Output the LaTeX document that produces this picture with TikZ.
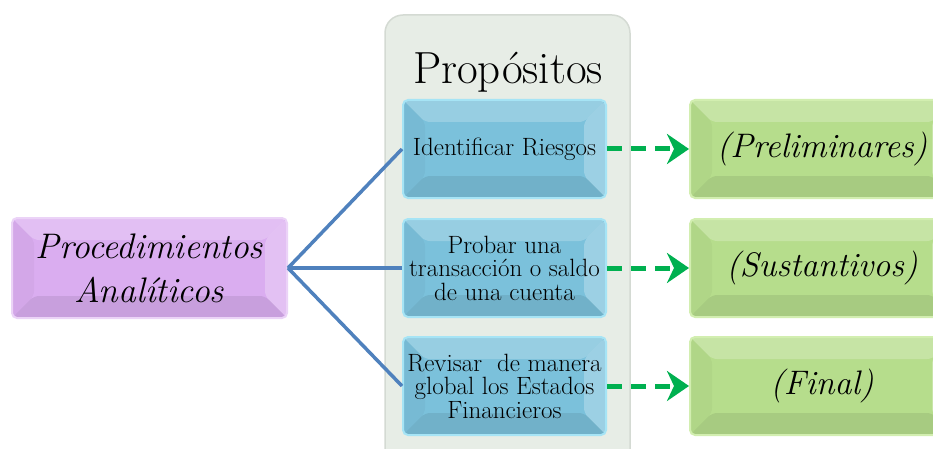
\documentclass[tikz,border=0pt]{standalone}
\usepackage{fontspec}
\usetikzlibrary{arrows.meta,calc}
\definecolor{purp}{HTML}{DAADF0}
\definecolor{purpglow}{HTML}{EBD3F7}
\definecolor{bluef}{HTML}{7BC1DB}
\definecolor{blueglow}{HTML}{A6E4F5}
\definecolor{greenf}{HTML}{B6DD8C}
\definecolor{greenglow}{HTML}{D2EEB0}
\definecolor{panel}{HTML}{E7EDE6}
\definecolor{panelline}{HTML}{D4DAD3}
\definecolor{connblue}{HTML}{4F81BD}
\definecolor{arrgreen}{HTML}{00B050}
\newcommand{\bw}{22pt}
\tikzset{
  bevel/.style={path picture={
    \path (path picture bounding box.north west) coordinate (pNW)
          (path picture bounding box.south east) coordinate (pSE);
    \fill[white,opacity=.22] (pNW) -- (pNW -| pSE) -- ($(pNW -| pSE)+(-\bw,-\bw)$) -- ($(pNW)+(\bw,-\bw)$) -- cycle;
    \fill[white,opacity=.25] (pNW -| pSE) -- (pSE) -- ($(pSE)+(-\bw,\bw)$) -- ($(pNW -| pSE)+(-\bw,-\bw)$) -- cycle;
    \fill[black,opacity=.08] (pSE) -- (pSE -| pNW) -- ($(pSE -| pNW)+(\bw,\bw)$) -- ($(pSE)+(-\bw,\bw)$) -- cycle;
    \fill[black,opacity=.03] (pNW) -- ($(pNW)+(\bw,-\bw)$) -- ($(pSE -| pNW)+(\bw,\bw)$) -- (pSE -| pNW) -- cycle;
  }},
  pbox/.style={bevel, rounded corners=5pt, fill=purp, draw=purpglow, line width=2pt,
    minimum width=275pt, minimum height=100pt, align=center, inner sep=1pt,
    font=\itshape\fontsize{35.5}{44}\selectfont},
  bbox/.style={bevel, rounded corners=5pt, fill=bluef, draw=blueglow, line width=2pt,
    minimum width=203pt, minimum height=98pt, align=center, inner sep=1pt,
    font=\fontsize{25}{23.5}\selectfont},
  gbox/.style={bevel, rounded corners=5pt, fill=greenf, draw=greenglow, line width=2pt,
    minimum width=264pt, minimum height=98pt, align=center,
    font=\itshape\fontsize{34}{38}\selectfont},
  conn/.style={draw=connblue, line width=3.5pt},
  darr/.style={draw=arrgreen, line width=5pt, dash pattern=on 15pt off 9pt,
    -{Stealth[length=22pt,width=30pt,inset=7pt]}},
}
\begin{document}
\begin{tikzpicture}[x=1pt,y=-1pt]
\useasboundingbox (0,0) rectangle (933,449);
% panel
\fill[panel, draw=panelline, line width=1.5pt, rounded corners=18pt] (385,15) rectangle (630,480);
\node (title) at (508,72) {\fontsize{45}{50}\selectfont Propósitos};
% left box
\node[pbox] (pa) at (149.5,268) {Procedimientos\\Analíticos};
% blue boxes
\node[bbox] (b1) at (504.5,149) {Identificar Riesgos};
\node[bbox] (b2) at (504.5,268) {Probar una\\transacción o saldo\\de una cuenta};
\node[bbox] (b3) at (504.5,386) {Revisar\ \ de manera\\global los Estados\\Financieros};
% green boxes
\node[gbox] (g1) at (822,149) {(Preliminares)};
\node[gbox] (g2) at (822,268) {(Sustantivos)};
\node[gbox] (g3) at (822,386) {(Final)};
% connectors
\draw[conn] (pa.east) -- (b1.west);
\draw[conn] (pa.east) -- (b2.west);
\draw[conn] (pa.east) -- (b3.west);
\draw[darr] (b1.east) -- (g1.west);
\draw[darr] (b2.east) -- (g2.west);
\draw[darr] (b3.east) -- (g3.west);
\end{tikzpicture}
\end{document}
